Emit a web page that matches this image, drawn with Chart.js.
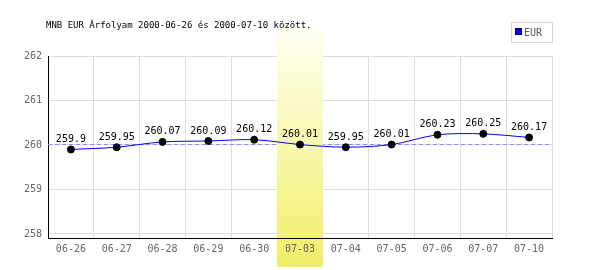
<!DOCTYPE html>
<html>
<head>
<meta charset="utf-8">
<script src="https://cdn.jsdelivr.net/npm/chart.js@4/dist/chart.umd.min.js"></script>
<style>
  body { margin: 0; background: #fff; }
  #wrap { width: 600px; height: 270px; }
</style>
</head>
<body>
<div id="wrap"><canvas id="chart" width="600" height="270"></canvas></div>
<script>
// data
const dates = ['06-26', '06-27', '06-28', '06-29', '06-30', '07-03', '07-04', '07-05', '07-06', '07-07', '07-10'];
const rates = [259.9, 259.95, 260.07, 260.09, 260.12, 260.01, 259.95, 260.01, 260.23, 260.25, 260.17];
const yTicks = [258, 259, 260, 261, 262];
const refRate = 260;
const highlightDate = '07-03';
const titleText = 'MNB EUR Árfolyam 2000-06-26 és 2000-07-10 között.';
const seriesName = 'EUR';

const MONO = '"DejaVu Sans Mono", "Liberation Mono", monospace';

const bandGradient = (ctx) => {
  const g = ctx.createLinearGradient(0, 27, 0, 267);
  g.addColorStop(0, '#fffff4');
  g.addColorStop(1, '#f0ef66');
  return g;
};

const bandX = (chart) => {
  const x = chart.scales.x;
  const i = dates.indexOf(highlightDate);
  const half = (x.getPixelForValue(1) - x.getPixelForValue(0)) / 2;
  const c = x.getPixelForValue(i);
  return [Math.round(c - half), Math.round(c + half)];
};

const decorations = {
  id: 'decorations',
  beforeDraw(chart) {
    // lower part of the band, under the tick label
    const ctx = chart.ctx;
    const [x0, x1] = bandX(chart);
    ctx.save();
    ctx.fillStyle = bandGradient(ctx);
    ctx.fillRect(x0, chart.chartArea.bottom, x1 - x0, 267 - chart.chartArea.bottom);
    ctx.restore();
  },
  beforeDatasetsDraw(chart) {
    const ctx = chart.ctx;
    const area = chart.chartArea;
    const y = chart.scales.y;
    // dashed reference line
    ctx.save();
    ctx.strokeStyle = '#8c8cff';
    ctx.lineWidth = 1;
    ctx.setLineDash([4, 3]);
    const ry = Math.round(y.getPixelForValue(refRate)) - 0.5;
    ctx.beginPath();
    ctx.moveTo(area.left, ry);
    ctx.lineTo(area.right, ry);
    ctx.stroke();
    ctx.restore();
    // upper part of the band, covers grid
    const [x0, x1] = bandX(chart);
    ctx.save();
    ctx.fillStyle = bandGradient(ctx);
    ctx.fillRect(x0, 27, x1 - x0, area.bottom - 27);
    ctx.restore();
  },
  afterDatasetsDraw(chart) {
    const ctx = chart.ctx;
    const meta = chart.getDatasetMeta(0);
    ctx.save();
    ctx.font = '10px ' + MONO;
    ctx.fillStyle = '#000';
    ctx.textAlign = 'center';
    ctx.textBaseline = 'bottom';
    meta.data.forEach((pt, i) => {
      ctx.fillText(String(rates[i]), pt.x, pt.y - 5);
    });
    ctx.restore();
  },
  afterDraw(chart) {
    const ctx = chart.ctx;
    ctx.save();
    // title
    ctx.font = '9px ' + MONO;
    ctx.fillStyle = '#000';
    ctx.textBaseline = 'middle';
    ctx.textAlign = 'left';
    ctx.fillText(titleText, 46, 26);
    // legend box
    ctx.strokeStyle = '#d8d8d8';
    ctx.lineWidth = 1;
    ctx.strokeRect(511.5, 22.5, 41, 20);
    ctx.fillStyle = '#0000ff';
    ctx.fillRect(516, 29, 6, 6);
    ctx.strokeStyle = '#000066';
    ctx.strokeRect(515.5, 28.5, 6, 6);
    ctx.font = '10px ' + MONO;
    ctx.fillStyle = '#555';
    ctx.fillText(seriesName, 524, 33);
    ctx.restore();
  }
};

new Chart(document.getElementById('chart'), {
  type: 'line',
  data: {
    labels: dates,
    datasets: [{
      label: seriesName,
      data: rates,
      borderColor: '#0000ff',
      borderWidth: 1,
      tension: 0.3,
      pointRadius: 3.5,
      pointBackgroundColor: '#000',
      pointBorderColor: '#000',
      pointBorderWidth: 1,
      fill: false
    }]
  },
  options: {
    responsive: false,
    animation: false,
    layout: { padding: { top: 56, right: 48, left: 0, bottom: 0 } },
    plugins: {
      legend: { display: false },
      title: { display: false },
      tooltip: { enabled: false }
    },
    scales: {
      x: {
        type: 'category',
        offset: true,
        afterFit(scale) { scale.height = 32; },
        grid: { offset: true, color: '#dddddd', drawTicks: false },
        border: { color: '#000', width: 1 },
        ticks: { color: '#666', font: { family: MONO, size: 10 }, padding: 5, maxRotation: 0, autoSkip: false }
      },
      y: {
        min: 257.91,
        max: 262,
        afterFit(scale) { scale.width = 48; },
        afterBuildTicks(scale) { scale.ticks = yTicks.map(v => ({ value: v })); },
        grid: { color: '#dddddd', drawTicks: false },
        border: { color: '#000', width: 1 },
        ticks: { color: '#666', font: { family: MONO, size: 10 }, padding: 6 }
      }
    }
  },
  plugins: [decorations]
});
</script>
</body>
</html>
